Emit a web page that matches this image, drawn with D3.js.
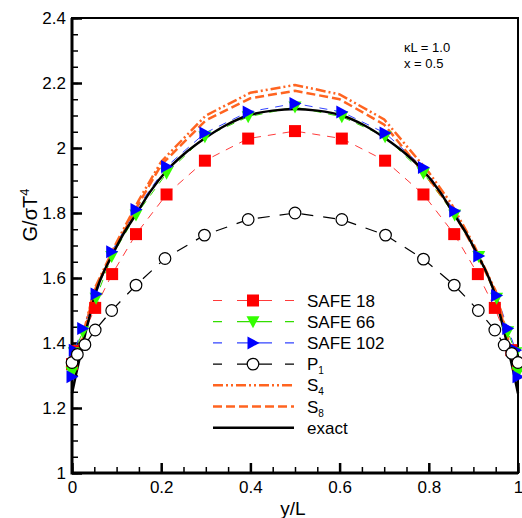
<!DOCTYPE html>
<meta charset="utf-8">
<body style="margin:0;background:#fff">
<script src="https://cdn.jsdelivr.net/npm/d3@7"></script>
<div id="chart"></div>
<script>
// ---- data ----
var xSafe18 = [0, 0.008, 0.052, 0.09, 0.1435, 0.212, 0.298, 0.395, 0.5, 0.605, 0.702, 0.788, 0.857, 0.91, 0.948, 0.985, 1];
var gSafe18 = [1.335, 1.375, 1.508, 1.612, 1.735, 1.857, 1.961, 2.029, 2.052, 2.029, 1.961, 1.857, 1.735, 1.612, 1.508, 1.378, 1.335];

var xSafe = [0, 0.005, 0.024, 0.054, 0.089, 0.1435, 0.212, 0.298, 0.395, 0.5, 0.605, 0.702, 0.788, 0.858, 0.912, 0.952, 0.977, 0.995, 1];
var gSafe66 = [1.31, 1.37, 1.435, 1.538, 1.666, 1.794, 1.922, 2.035, 2.096, 2.126, 2.096, 2.035, 1.922, 1.794, 1.666, 1.538, 1.435, 1.37, 1.31];
var gSafe102 = [1.296, 1.378, 1.445, 1.551, 1.681, 1.811, 1.943, 2.046, 2.111, 2.137, 2.111, 2.046, 1.94, 1.806, 1.668, 1.546, 1.445, 1.378, 1.296];

var xP1 = [0, 0.012, 0.029, 0.052, 0.089, 0.1435, 0.2085, 0.297, 0.395, 0.5, 0.605, 0.703, 0.788, 0.857, 0.911, 0.948, 0.969, 0.986, 1];
var gP1 = [1.34, 1.365, 1.395, 1.44, 1.50, 1.578, 1.66, 1.732, 1.78, 1.80, 1.78, 1.732, 1.658, 1.578, 1.50, 1.44, 1.394, 1.368, 1.34];

var xSN = [0, 0.02, 0.05, 0.1, 0.15, 0.2, 0.3, 0.4, 0.5, 0.6, 0.7, 0.8, 0.85, 0.9, 0.95, 0.98, 1];
var gS4 = [1.30, 1.40, 1.565, 1.71, 1.84, 1.958, 2.10, 2.17, 2.194, 2.165, 2.088, 1.925, 1.83, 1.705, 1.56, 1.40, 1.30];
var gS8 = [1.29, 1.39, 1.56, 1.70, 1.83, 1.948, 2.085, 2.153, 2.176, 2.15, 2.072, 1.905, 1.815, 1.695, 1.555, 1.39, 1.29];

var xExact = [0, 0.01, 0.02, 0.03, 0.04, 0.052, 0.07, 0.09, 0.115, 0.143, 0.175, 0.212, 0.25, 0.298, 0.345, 0.395, 0.45, 0.5,
              0.55, 0.605, 0.655, 0.702, 0.75, 0.788, 0.825, 0.857, 0.885, 0.91, 0.93, 0.948, 0.96, 0.97, 0.98, 0.99, 1];
var gExact = [1.245, 1.31, 1.37, 1.43, 1.485, 1.55, 1.615, 1.67, 1.735, 1.795, 1.865, 1.93, 1.98, 2.03, 2.07, 2.10, 2.115, 2.12,
              2.115, 2.10, 2.07, 2.03, 1.98, 1.93, 1.865, 1.795, 1.735, 1.67, 1.615, 1.55, 1.485, 1.43, 1.37, 1.31, 1.245];

var xTicks = [0, 0.2, 0.4, 0.6, 0.8, 1];
var yTicks = [1, 1.2, 1.4, 1.6, 1.8, 2, 2.2, 2.4];

var W = 522, H = 518;
var svg = d3.select("#chart").append("svg")
    .attr("width", W).attr("height", H)
    .style("font-family", "'Liberation Sans', Arial, sans-serif");

var x = d3.scaleLinear().domain([0, 1]).range([72, 518]);
var y = d3.scaleLinear().domain([1, 2.4]).range([473, 18]);

// minor ticks
svg.append("g")
    .attr("transform", "translate(72,0)")
    .call(d3.axisLeft(y).tickValues(d3.range(1, 2.401, 0.05)).tickSize(-6).tickFormat(""))
    .call(g => g.select(".domain").remove())
    .selectAll("line").attr("stroke-width", 1.5);
svg.append("g")
    .attr("transform", "translate(0,473)")
    .call(d3.axisBottom(x).tickValues(d3.range(0, 1.001, 0.05)).tickSize(-6).tickFormat(""))
    .call(g => g.select(".domain").remove())
    .selectAll("line").attr("stroke-width", 1.5);

// major ticks + labels
var yAxis = svg.append("g")
    .attr("transform", "translate(72,0)")
    .call(d3.axisLeft(y).tickValues(yTicks).tickSizeInner(-10).tickSizeOuter(0).tickPadding(6).tickFormat(d3.format("~g")));
yAxis.selectAll("line").attr("stroke-width", 2.5);
yAxis.selectAll("text").attr("font-size", 17).attr("fill", "#000").attr("x", -6);
yAxis.select(".domain").remove();

var xAxis = svg.append("g")
    .attr("transform", "translate(0,473)")
    .call(d3.axisBottom(x).tickValues(xTicks).tickSizeInner(-10).tickSizeOuter(0).tickPadding(6).tickFormat(d3.format("~g")));
xAxis.selectAll("line").attr("stroke-width", 2.5);
xAxis.selectAll("text").attr("font-size", 17).attr("fill", "#000").attr("y", 8);
xAxis.select(".domain").remove();

// frame
svg.append("rect")
    .attr("x", 72).attr("y", 18).attr("width", 446).attr("height", 455)
    .attr("fill", "none").attr("stroke", "#000").attr("stroke-width", 2);
svg.append("path")
    .attr("d", "M72,18V473H518")
    .attr("fill", "none").attr("stroke", "#000").attr("stroke-width", 3);

// axis titles
svg.append("text")
    .attr("transform", "translate(37,215) rotate(-90)")
    .attr("text-anchor", "middle").attr("font-size", 20)
    .html("G/σT<tspan dy='-8' font-size='13'>4</tspan>");
svg.append("text")
    .attr("x", 293).attr("y", 515)
    .attr("text-anchor", "middle").attr("font-size", 19)
    .text("y/L");

svg.append("text").attr("x", 404).attr("y", 52).attr("font-size", 13).text("κL = 1.0");
svg.append("text").attr("x", 404).attr("y", 68).attr("font-size", 13).text("x = 0.5");

// series
var line = d3.line().x(d => x(d[0])).y(d => y(d[1]));
var smooth = d3.line().x(d => x(d[0])).y(d => y(d[1])).curve(d3.curveMonotoneX);
var zip = (a, b) => a.map((v, i) => [v, b[i]]);

var orange = "#ff6420";
var series = [
    { name: "SAFE 18", pts: zip(xSafe18, gSafe18), color: "#ff3a3a", width: 1, dash: "8,7", marker: "square", mcolor: "#ff0000" },
    { name: "SAFE 66", pts: zip(xSafe, gSafe66), color: "#33dd00", width: 1, dash: "8,7", marker: "tdown", mcolor: "#33ff00" },
    { name: "SAFE 102", pts: zip(xSafe, gSafe102), color: "#3344ff", width: 1, dash: "8,7", marker: "tright", mcolor: "#0000ff" },
    { name: "P", sub: "1", pts: zip(xP1, gP1), color: "#000", width: 1.2, dash: "12,10", marker: "circle", mcolor: "#000" },
    { name: "S", sub: "4", pts: zip(xSN, gS4), color: orange, width: 2.5, dash: "10,3,2,3,2,3" },
    { name: "S", sub: "8", pts: zip(xSN, gS8), color: orange, width: 2.5, dash: "9,4" },
    { name: "exact", pts: zip(xExact, gExact), color: "#000", width: 2.5, dash: null, curve: true }
];

function drawMarker(g, type, color) {
    if (type === "square") {
        g.append("rect").attr("x", -6).attr("y", -6).attr("width", 12).attr("height", 12).attr("fill", color);
    } else if (type === "tdown") {
        g.append("path").attr("d", "M-6.5,-5.5L6.5,-5.5L0,6.5Z").attr("fill", color);
    } else if (type === "tright") {
        g.append("path").attr("d", "M-5.5,-6.5L6.5,0L-5.5,6.5Z").attr("fill", color);
    } else if (type === "circle") {
        g.append("circle").attr("r", 5.8).attr("fill", "#fff").attr("stroke", color).attr("stroke-width", 1.2);
    }
}

series.forEach(function (s) {
    svg.append("path")
        .attr("d", (s.curve ? smooth : line)(s.pts))
        .attr("fill", "none")
        .attr("stroke", s.color)
        .attr("stroke-width", s.width)
        .attr("stroke-dasharray", s.dash);
});
series.forEach(function (s) {
    if (!s.marker) return;
    s.pts.forEach(function (p) {
        var g = svg.append("g").attr("transform", "translate(" + x(p[0]) + "," + y(p[1]) + ")");
        drawMarker(g, s.marker, s.mcolor);
    });
});

// legend
var legend = svg.append("g");
series.forEach(function (s, i) {
    var ly = 300.5 + i * 21.2;
    var dash = s.marker ? "9,15,35,13,9" : s.dash;
    legend.append("line")
        .attr("x1", 213).attr("x2", 294).attr("y1", ly).attr("y2", ly)
        .attr("stroke", s.color).attr("stroke-width", s.marker ? 1.2 : s.width)
        .attr("stroke-dasharray", dash);
    if (s.marker) {
        var g = legend.append("g").attr("transform", "translate(253," + ly + ")");
        drawMarker(g, s.marker, s.mcolor);
    }
    var t = legend.append("text").attr("x", 307).attr("y", ly + 6).attr("font-size", 17).text(s.name);
    if (s.sub) t.append("tspan").attr("dy", 4).attr("font-size", 10).text(s.sub);
});
</script>
</body>
